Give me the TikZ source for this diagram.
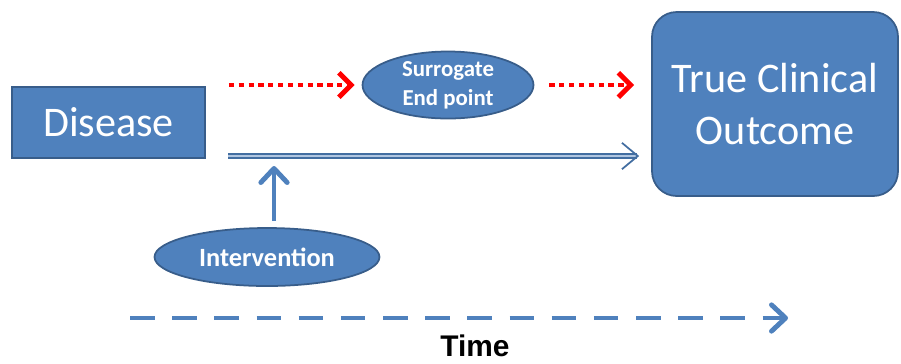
\documentclass[tikz,border=0pt]{standalone}
\usepackage{fontspec}
\setmainfont{Carlito}
\newfontfamily\arialfont{Liberation Sans}
\usetikzlibrary{arrows.meta,shapes.geometric}
\definecolor{boxblue}{HTML}{4F81BD}
\definecolor{edgeblue}{HTML}{385D8A}
\begin{document}
\begin{tikzpicture}[x=0.02cm,y=-0.02cm]
    \tikzstyle{block}=[fill=boxblue,draw=edgeblue,line width=1pt,text=white,align=center]
    \tikzstyle{oval}=[block,ellipse,inner sep=0pt]
    \tikzstyle{red link}=[red,line width=2.8pt,dash pattern=on 3pt off 2.6pt,
        -{Straight Barb[length=7pt,width=14pt,line join=miter]}]
    \tikzstyle{track link}=[draw=boxblue!85!black,double=boxblue!45,line width=1pt,double distance=1.6pt,
        -{Straight Barb[length=9pt,width=15pt]}]
    \tikzstyle{up link}=[boxblue,line width=2.8pt,-{Straight Barb[length=8pt,width=15pt,line join=round,line cap=round]}]
    \tikzstyle{time link}=[boxblue,line width=2.8pt,dash pattern=on 14pt off 10pt,
        -{Straight Barb[length=8pt,width=15pt,line join=round,line cap=round]}]
    \useasboundingbox (0,0) rectangle (901,363);

    % Draw the boxes
    \node[block,minimum width=3.86cm,minimum height=1.42cm,font=\fontsize{24}{29}\selectfont]
        (disease) at (108.5,122.5) {Disease};
    \node[block,rounded corners=14pt,minimum width=4.92cm,minimum height=3.68cm,
        font=\fontsize{24}{29.5}\selectfont] (outcome) at (775,104) {True Clinical\\Outcome};

    % Draw the ovals
    \node[oval,minimum width=3.42cm,minimum height=1.3cm,font=\bfseries\fontsize{13}{16.4}\selectfont]
        (surrogate) at (448,85) {Surrogate\\End point};
    \node[oval,minimum width=4.5cm,minimum height=1.16cm,font=\bfseries\fontsize{15}{18}\selectfont]
        (intervention) at (267,257) {Intervention};

    % Surrogate path
    \draw[red link,shorten <=0.46cm,shorten >=0.14cm] (disease.east |- surrogate.west) -- (surrogate.west);
    \draw[red link,shorten <=0.3cm,shorten >=0.34cm] (surrogate.east) -- (outcome.west |- surrogate.east);

    % Direct path and intervention
    \coordinate (track start) at (228,156);
    \draw[track link,shorten >=0.24cm] (track start) -- (outcome.west |- track start);
    \coordinate (hit) at (274,166);
    \draw[up link,shorten <=0.12cm] (intervention.north -| hit) -- (hit);

    % Time axis
    \coordinate (time start) at (130,318);
    \coordinate (time end) at (788,318);
    \draw[time link] (time start) -- (time end);
    \node[font=\arialfont\bfseries\fontsize{17}{20}\selectfont,inner sep=1pt] (time) at (475,346) {Time};
\end{tikzpicture}
\end{document}
